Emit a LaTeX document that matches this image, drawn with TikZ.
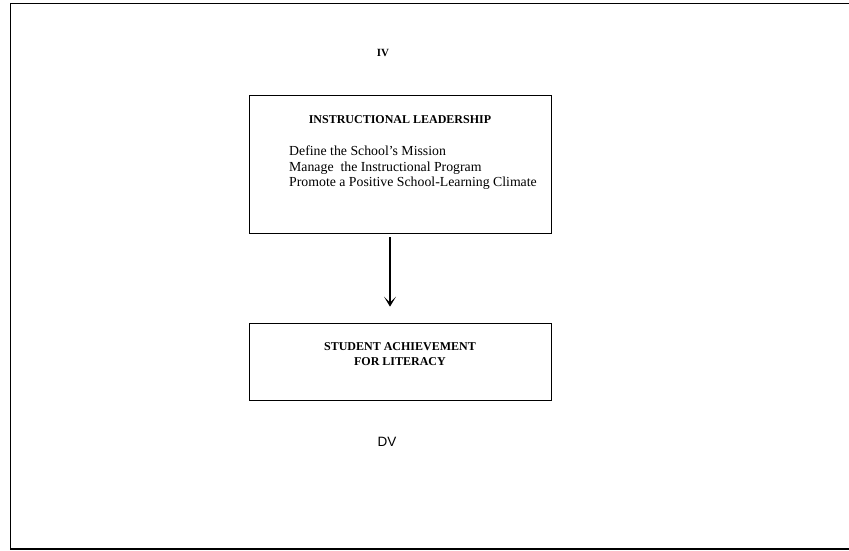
\documentclass[tikz,border=0pt]{standalone}
\usepackage{fontspec}
\setmainfont{Liberation Serif}
\newfontfamily\dvfont{Liberation Sans}
\usetikzlibrary{arrows.meta,positioning}

\begin{document}
\begin{tikzpicture}[
    x=1pt, y=-1pt,
    box/.style={rectangle, draw, line width=0.8pt, minimum width=302pt, inner sep=0pt},
    head/.style={font=\bfseries\fontsize{12}{15}\selectfont, align=center, inner sep=0pt},
    item/.style={font=\fontsize{13.8}{15.5}\selectfont, align=left, inner sep=0pt},
    arrow/.style={-{Stealth[length=10pt, width=12pt, inset=6pt]}, line width=1.6pt}
]
    \useasboundingbox (0,0) rectangle (849,550);
    \draw[line width=1.8pt] (849,3.5) -- (10.5,3.5) -- (10.5,549) -- (849,549);

    \node (iv) at (383,53) {\bfseries\fontsize{11}{13}\selectfont IV};

    \node[box, minimum height=138pt] (lead) at (400,164) {};
    \node[head] (leadtitle) at (400,119.5) {INSTRUCTIONAL LEADERSHIP};
    \node[item, anchor=north west] (leaditems) at (289,146) {Define the School's Mission\\Manage\ \ the Instructional Program\\Promote a Positive School-Learning Climate};

    \node[box, minimum height=77pt] (ach) at (400,361.5) {};
    \node[head] (achtitle) at (400,354.5) {STUDENT ACHIEVEMENT\\FOR LITERACY};

    \node (dv) at (387,442) {\dvfont\fontsize{13.5}{15}\selectfont DV};

    \draw[arrow, shorten <=4pt, shorten >=16pt] ([xshift=-10pt]lead.south) -- ([xshift=-10pt]ach.north);
\end{tikzpicture}
\end{document}
